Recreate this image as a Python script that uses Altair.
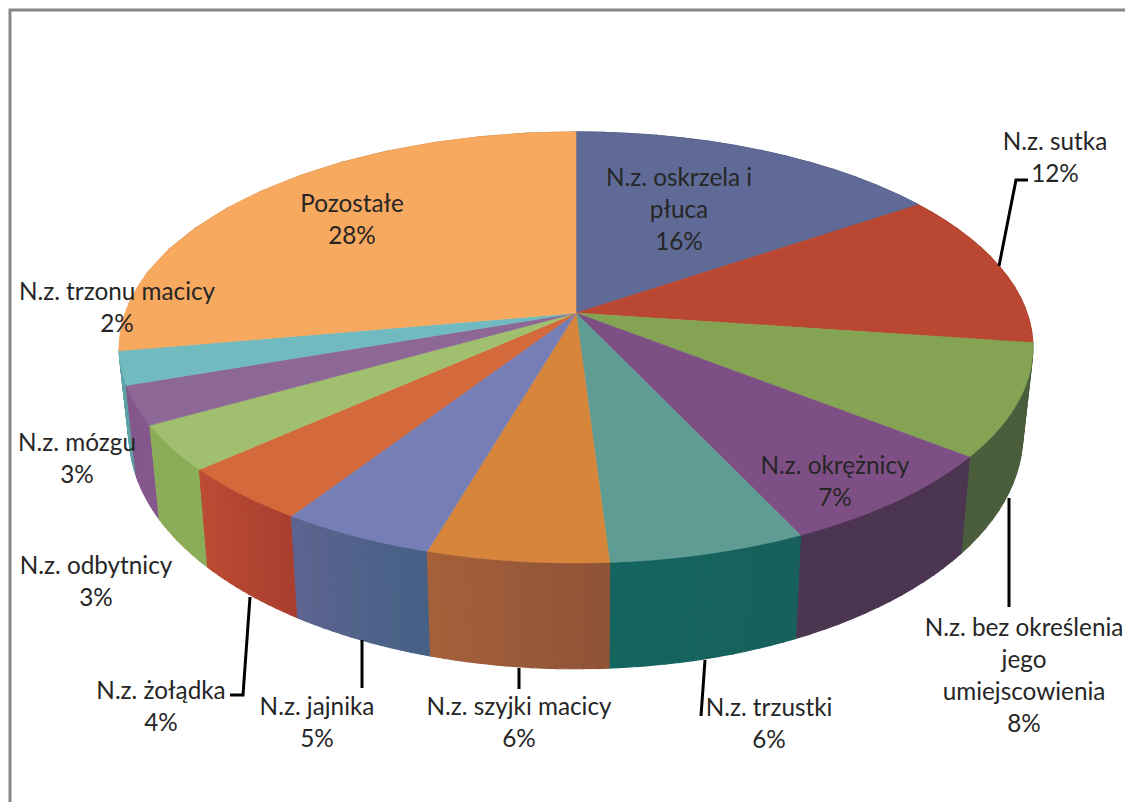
import math
import altair as alt
import pandas as pd

# ---- chart values ----
names = ["N.z. oskrzela i płuca", "N.z. sutka", "N.z. bez określenia jego umiejscowienia",
         "N.z. okrężnicy", "N.z. trzustki", "N.z. szyjki macicy", "N.z. jajnika", "N.z. żołądka",
         "N.z. odbytnicy", "N.z. mózgu", "N.z. trzonu macicy", "Pozostałe"]
values = [15.5, 11.7, 8.4, 7.4, 6.0, 5.5, 4.7, 4.2, 3.4, 2.9, 2.5, 27.8]
top_colors = ["#5f6b96", "#b94731", "#84a454", "#7e4f84", "#5f9c93", "#d6853b",
              "#767fb5", "#d4693b", "#a0bf6f", "#8d6796", "#70bac0", "#f7a95f"]
side_start = ["#4a5680", "#9a3a28", "#4a5d3c", "#4b3551", "#18605c", "#8f5338",
              "#466185", "#aa3f30", "#8bac59", "#85588c", "#5ea1a5", "#c08048"]
side_end = ["#4a5680", "#9a3a28", "#4a5d3c", "#4b3551", "#14655f", "#a5603a",
            "#5c648f", "#bb4b33", "#8bac59", "#85588c", "#5ea1a5", "#c08048"]

label_lines = [["N.z. oskrzela i", "płuca", "16%"], ["N.z. sutka", "12%"],
               ["N.z. bez określenia", "jego", "umiejscowienia", "8%"], ["N.z. okrężnicy", "7%"],
               ["N.z. trzustki", "6%"], ["N.z. szyjki macicy", "6%"], ["N.z. jajnika", "5%"],
               ["N.z. żołądka", "4%"], ["N.z. odbytnicy", "3%"], ["N.z. mózgu", "3%"],
               ["N.z. trzonu macicy", "2%"], ["Pozostałe", "28%"]]

# ---- layout, separate from the values ----
CX, CY, A, B, K = 576, 313, 451, 210, 0.16      # perspective of the pie's top face
SHRINK, DEPTH0, DEPTH1 = 0.978, 84, 0.087       # rim below the top face
label_x = [679, 1055, 1024, 835, 769, 519, 317, 161, 96, 77, 117, 352]
label_y = [178.5, 142.5, 628.5, 466.5, 708.5, 707.5, 707.5, 691.5, 566.5, 443.5, 292.5, 204.5]
line_gap = 32.0
leaders = [[(1028, 180), (1016, 180), (999, 266)], [(1009, 498), (1009, 607)],
           [(705, 660), (701, 716)], [(519, 668), (519, 689)], [(362, 640), (362, 688)],
           [(250, 597), (243, 695), (230, 695)]]
border = [[(1125, 10), (10, 10), (10, 802)]]


def top_point(theta):
    w = 1 + K * math.cos(theta)
    return CX + A * math.sin(theta) / w, CY - B * math.cos(theta) / w


def rim_point(theta):
    x, y = top_point(theta)
    return CX + (x - CX) * SHRINK, y + DEPTH0 + DEPTH1 * (y - CY)


def feature(ring, color):
    ring = [[x - 8, y - 8] for x, y in ring]
    return {"type": "Feature", "properties": {"color": color},
            "geometry": {"type": "Polygon", "coordinates": [ring + [ring[0]]]}}


def mix(c1, c2, t):
    a = [int(c1[i:i + 2], 16) for i in (1, 3, 5)]
    b = [int(c2[i:i + 2], 16) for i in (1, 3, 5)]
    return "#" + "".join(f"{round(p + (q - p) * t):02x}" for p, q in zip(a, b))


bounds = [0.0]
for v in values:
    bounds.append(bounds[-1] + v)
angles = [b / sum(values) * 2 * math.pi for b in bounds]

slices = list(range(len(values)))
mids = [(angles[i] + angles[i + 1]) / 2 for i in slices]
side_features = []
for i in sorted(slices, key=lambda s: -abs(mids[s] - math.pi)):
    strips = 14
    for s in range(strips):
        t0 = angles[i] + (angles[i + 1] - angles[i]) * s / strips
        t1 = angles[i] + (angles[i + 1] - angles[i]) * (s + 1) / strips
        ring = [top_point(t0), top_point(t1), rim_point(t1), rim_point(t0)]
        side_features.append(feature(ring, mix(side_start[i], side_end[i], s / (strips - 1))))

top_features = []
for i in slices:
    steps = 60
    ring = [(CX, CY)] + [top_point(angles[i] + (angles[i + 1] - angles[i]) * s / steps)
                         for s in range(steps + 1)]
    top_features.append(feature(ring, top_colors[i]))

text_rows = []
for i, lines in enumerate(label_lines):
    for n, line in enumerate(lines):
        text_rows.append({"x": label_x[i], "y": label_y[i] + n * line_gap, "t": line})

def path_rows(paths):
    return pd.DataFrame([{"g": g, "o": o, "x": x, "y": y}
                         for g, path in enumerate(paths) for o, (x, y) in enumerate(path)])


X = alt.X("x:Q", scale=alt.Scale(domain=[8, 1125], nice=False, zero=False), axis=None)
Y = alt.Y("y:Q", scale=alt.Scale(domain=[802, 8], nice=False, zero=False), axis=None)


def polys(features, stroke_width):
    return (alt.Chart(alt.Data(values=features))
            .mark_geoshape(strokeWidth=stroke_width)
            .encode(fill=alt.Fill("properties.color:N", scale=None, legend=None),
                    stroke=alt.Stroke("properties.color:N", scale=None, legend=None))
            .project(type="identity", scale=1, translate=[0, 0]))


def lines_layer(paths, color, width):
    return (alt.Chart(path_rows(paths))
            .mark_line(color=color, strokeWidth=width, strokeJoin="miter")
            .encode(x=X, y=Y, order="o:Q", detail="g:N"))


chart = alt.layer(
    lines_layer(border, "#868686", 3),
    polys(side_features, 1.2),
    polys(top_features, 0.6),
    lines_layer(leaders, "#000000", 3),
    alt.Chart(pd.DataFrame(text_rows))
    .mark_text(font="Lato", fontSize=24.3, color="#262626", align="center", baseline="middle")
    .encode(x=X, y=Y, text="t:N"),
).properties(width=1117, height=794, padding=0, background="white",
             autosize=alt.AutoSizeParams(type="none")
).configure_view(stroke=None)

chart.save("out.html", embed_options={"renderer": "svg", "actions": False})
